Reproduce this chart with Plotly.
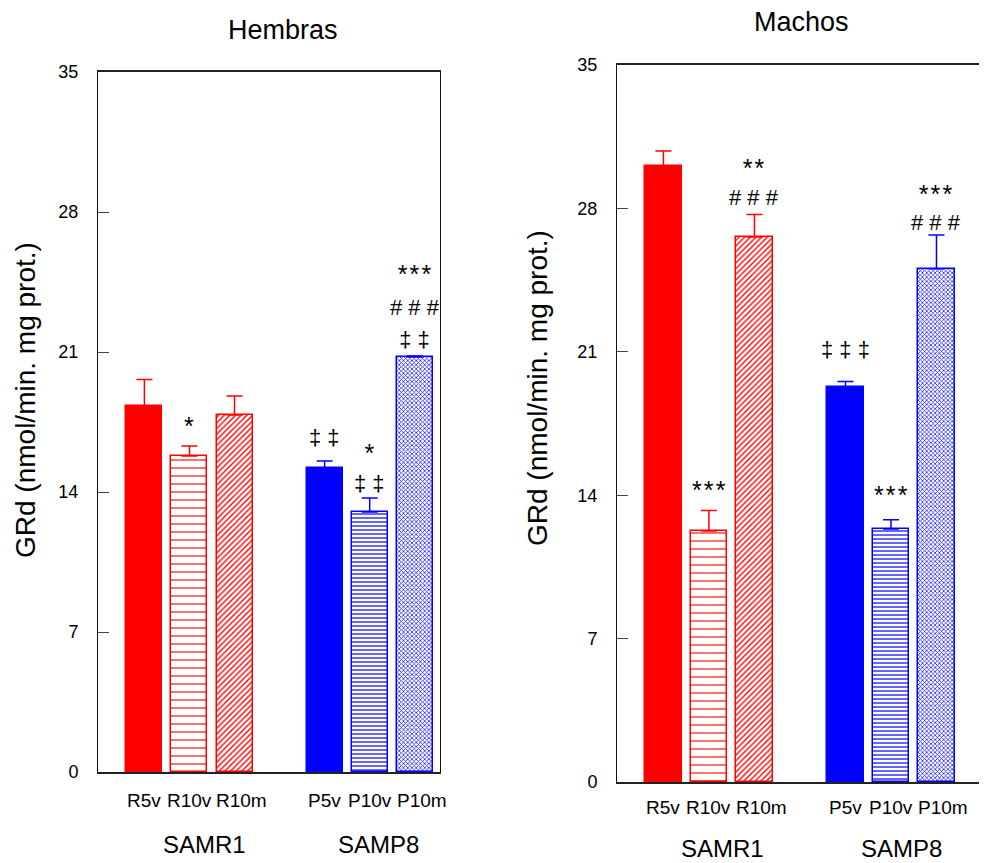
import plotly.graph_objects as go

# ---------------- data ----------------
bar_labels = ["R5v", "R10v", "R10m", "P5v", "P10v", "P10m"]
bar_positions = [0, 1, 2, 4, 5, 6]
group_labels = ["SAMR1", "SAMP8"]
y_ticks = [0, 7, 14, 21, 28, 35]

hembras_mean = [18.3, 15.8, 17.85, 15.2, 13.0, 20.75]
hembras_sem = [1.33, 0.5, 0.95, 0.35, 0.7, 0.05]
machos_mean = [30.05, 12.25, 26.6, 19.3, 12.35, 25.05]
machos_sem = [0.75, 1.0, 1.1, 0.25, 0.45, 1.65]

# significance marks: (bar index, lines top->bottom, y of block centre)
hembras_marks = [(1, ["*"], 17.5), (3, ["‡ ‡"], 16.75), (4, ["*", "‡ ‡"], 15.45),
                 (5, ["***", "# # #", "‡ ‡"], 23.5)]
machos_marks = [(1, ["***"], 14.45), (2, ["**", "# # #"], 29.5),
                (3, ["‡ ‡ ‡"], 21.1), (4, ["***"], 14.2),
                (5, ["***", "# # #"], 28.25)]
# line spacing (px) of each multi-line block, per panel
hembras_mark_spacing = [29, 29, 29, 32]
machos_mark_spacing = [27, 28, 27, 27, 27]

# ---------------- styles ----------------
RED = "#ff0000"
BLUE = "#0000ff"
bar_colors = [RED, RED, RED, BLUE, BLUE, BLUE]
pattern_shapes = ["", "-", "/", "", "-", "x"]
pattern_sizes = [8, 8, 4, 8, 4, 3]
pattern_solid = [0.3, 0.14, 0.35, 0.3, 0.3, 0.4]
FONT = "Liberation Sans, Arial, sans-serif"

# the page puts the figure 8 px from the top-left corner
OFF = 8
W, H = 987 - OFF, 863 - OFF


def px(X):
    return (X - OFF) / W


def py(Y):
    return 1 - (Y - OFF) / H


panels = [
    dict(mean=hembras_mean, sem=hembras_sem, marks=hembras_marks,
         spacing=hembras_mark_spacing, xa="x", ya="y",
         title="Hembras", title_x=283, title_y=30, xdom=[98, 440], ydom=[72, 772],
         xrange=[-1.03, 6.56], mirror_y=True, ytitle_x=25, ytitle_y=400,
         lab_y=800, grp_y=844, grp_x=[204, 378]),
    dict(mean=machos_mean, sem=machos_sem, marks=machos_marks,
         spacing=machos_mark_spacing, xa="x2", ya="y2",
         title="Machos", title_x=801, title_y=22, xdom=[617, 987], ydom=[65, 782],
         xrange=[-1.02, 7.11], mirror_y=False, ytitle_x=537, ytitle_y=388,
         lab_y=807, grp_y=848, grp_x=[722, 901]),
]

fig = go.Figure()
annotations = []
layout_axes = {}


def txt(**kw):
    d = dict(showarrow=False, xanchor="center", yanchor="middle")
    d.update(kw)
    return d


def mark_line(t):
    if t.startswith("*"):
        return "<span style='font-size:25px'>" + "\u200a".join(t) + "</span>"
    return "<span style='font-size:22px'>" + t + "</span>"


for pi, p in enumerate(panels):
    for i in range(len(bar_labels)):
        col = bar_colors[i]
        shape = pattern_shapes[i]
        marker = dict(color=col if shape == "" else "white",
                      line=dict(color=col, width=1.5))
        if shape:
            marker["pattern"] = dict(shape=shape, fgcolor=col, bgcolor="white",
                                     size=pattern_sizes[i], solidity=pattern_solid[i],
                                     fillmode="replace")
        fig.add_trace(go.Bar(
            x=[bar_positions[i]], y=[p["mean"][i]], width=0.8,
            marker=marker, xaxis=p["xa"], yaxis=p["ya"], showlegend=False,
            error_y=dict(type="data", symmetric=False, array=[p["sem"][i]],
                         arrayminus=[0], color=col, thickness=1.5, width=8),
        ))
    # significance marks
    for (bi, lines, yv), sp in zip(p["marks"], p["spacing"]):
        star_top = lines[0].startswith("*")
        annotations.append(txt(
            x=bar_positions[bi], y=yv, xref=p["xa"], yref=p["ya"],
            text="<br>".join(mark_line(t) for t in lines),
            yshift=-4 if star_top else 0,
            font=dict(family=FONT, size=sp / 1.3, color="black")))
    # bar labels below axis
    for i, lab in enumerate(bar_labels):
        annotations.append(txt(x=bar_positions[i], y=py(p["lab_y"]), xref=p["xa"],
                               yref="paper", text=lab,
                               xshift=7 if lab.endswith("m") else 0,
                               font=dict(family=FONT, size=19, color="black")))
    # group labels
    for gx, g in zip(p["grp_x"], group_labels):
        annotations.append(txt(x=px(gx), y=py(p["grp_y"]), xref="paper", yref="paper",
                               text=g, font=dict(family=FONT, size=24, color="black")))
    # title
    annotations.append(txt(x=px(p["title_x"]), y=py(p["title_y"]), xref="paper",
                           yref="paper", text=p["title"],
                           font=dict(family=FONT, size=27, color="black")))
    # y title
    annotations.append(txt(x=px(p["ytitle_x"]), y=py(p["ytitle_y"]), xref="paper",
                           yref="paper", text="GRd (nmol/min. mg prot.)", textangle=-90,
                           font=dict(family=FONT, size=28, color="black")))

    xkey = "xaxis" if pi == 0 else "xaxis2"
    ykey = "yaxis" if pi == 0 else "yaxis2"
    layout_axes[xkey] = dict(domain=[px(p["xdom"][0]), min(px(p["xdom"][1]), 1.0)],
                             range=p["xrange"], showgrid=False, zeroline=False,
                             showticklabels=False, ticks="", showline=True,
                             linecolor="#222", linewidth=1.5, mirror=True,
                             automargin=False,
                             anchor="y" if pi == 0 else "y2")
    layout_axes[ykey] = dict(domain=[py(p["ydom"][1]), py(p["ydom"][0])],
                             range=[0, 35], tickvals=y_ticks, showgrid=False,
                             zeroline=False, ticks="inside", ticklen=11,
                             tickcolor="#444", showline=True, linecolor="#111",
                             linewidth=1, mirror=p["mirror_y"],
                             ticklabelstandoff=15, automargin=False,
                             tickfont=dict(family=FONT, size=18, color="black"),
                             anchor="x" if pi == 0 else "x2")

fig.update_layout(
    template="none",
    width=W, height=H, margin=dict(l=0, r=0, t=0, b=0, pad=0), autosize=False,
    paper_bgcolor="white", plot_bgcolor="white",
    annotations=annotations, bargap=0, **layout_axes,
)

fig.write_html("out.html")
